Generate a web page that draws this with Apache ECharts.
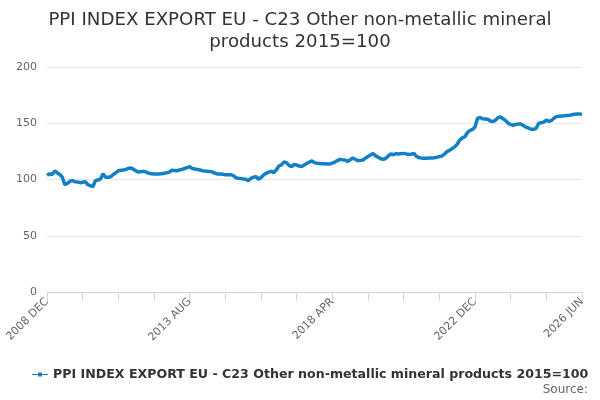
<!DOCTYPE html>
<html>
<head>
<meta charset="utf-8">
<script src="https://cdn.jsdelivr.net/npm/echarts@6/dist/echarts.min.js"></script>
<style>
  html, body { margin: 0; padding: 0; background: #fff; }
  #chart { width: 600px; height: 400px; }
</style>
</head>
<body>
<div id="chart"></div>
<script>
// monthly index, 2008 DEC .. 2026 JUN
var seriesName = 'PPI INDEX EXPORT EU - C23 Other non-metallic mineral products 2015=100';
var monthNames = ['JAN','FEB','MAR','APR','MAY','JUN','JUL','AUG','SEP','OCT','NOV','DEC'];
var tickLabels = ['2008 DEC', '2013 AUG', '2018 APR', '2022 DEC', '2026 JUN'];
var values = [
  103.7, 105, 104.5, 107.5, 106, 104.5, 102, 95.5, 96.5, 98.5,
  99, 98, 97.8, 97.2, 97.5, 98, 95.5, 94.5, 93.6, 99,
  99.5, 100.5, 105, 102, 102, 102.5, 104.5, 106, 107.8, 108.2,
  108.4, 109, 110, 110.2, 109, 107.5, 106.6, 107, 107.3, 106.5,
  105.5, 105.2, 104.9, 105, 104.9, 105.2, 105.5, 106, 106.6, 108.2,
  108, 107.8, 108.5, 109, 109.8, 110.5, 111.4, 109.8, 109.4, 109,
  108.4, 107.8, 107.5, 107.3, 107, 106.6, 105.5, 104.9, 104.9, 104.6,
  104.3, 104.3, 104.3, 103.7, 101.8, 101, 100.8, 100.5, 100.2, 99,
  101, 102, 102.6, 100.2, 101.8, 104, 105.5, 106.5, 107.3, 106,
  108.5, 112, 113, 115.5, 115, 112.5, 111.4, 113.5, 112.8, 112,
  111.4, 113, 114.3, 115.5, 116.5, 115, 114.5, 114.3, 114, 114,
  113.8, 113.8, 114.5, 115.5, 116.8, 117.9, 117.5, 117.3, 116.1, 117.5,
  119.1, 118, 116.7, 117, 117.3, 119, 120.5, 121.8, 123.2, 121,
  119.8, 118.5, 117.9, 118.8, 121, 122.7, 122, 123, 122.7, 123,
  123.2, 122.8, 122.2, 122.5, 123.2, 120.5, 119.5, 119, 118.8, 118.8,
  119.1, 119.2, 119.4, 119.8, 120.3, 120.8, 122.5, 124.8, 125.9, 127.5,
  129, 131.3, 135, 137, 138, 141.5, 143.5, 144.5, 146.7, 154.5,
  155, 154, 153.8, 153.5, 152, 151.5, 152.5, 155, 155.6, 154,
  152.5, 150, 148.8, 148.2, 149, 149.3, 149.3, 148, 146.5, 145.8,
  144.6, 144.6, 145.5, 150, 150.5, 151, 152.9, 151.7, 152.5, 154.5,
  155.9, 156.2, 156.4, 156.6, 157, 157, 157.5, 158, 158.2, 158.2,
  157.9
];

var categories = [];
var y = 2008, m = 11;
for (var i = 0; i < values.length; i++) {
  categories.push(y + ' ' + monthNames[m]);
  m++;
  if (m > 11) { m = 0; y++; }
}

var chart = echarts.init(document.getElementById('chart'));
chart.setOption({
  animation: false,
  textStyle: { fontFamily: 'DejaVu Sans' },
  title: {
    text: 'PPI INDEX EXPORT EU - C23 Other non-metallic mineral\nproducts 2015=100',
    left: 'center',
    top: 4,
    textStyle: { fontSize: 18.2, fontWeight: 'normal', color: '#333', lineHeight: 22 }
  },
  grid: { left: 47, right: 18, top: 67, bottom: 108 },
  xAxis: {
    type: 'category',
    data: categories,
    boundaryGap: false,
    axisLine: { lineStyle: { color: '#ccd6eb' } },
    axisTick: {
      length: 9,
      lineStyle: { color: '#ccd6eb' },
      interval: function (idx) { return idx % 14 === 0; }
    },
    axisLabel: {
      rotate: 45,
      color: '#666',
      fontSize: 11,
      margin: 8,
      interval: function (idx, val) { return tickLabels.indexOf(val) >= 0; }
    },
    splitLine: { show: false }
  },
  yAxis: {
    type: 'value',
    min: 0,
    max: 200,
    interval: 50,
    axisLine: { show: false },
    axisTick: { show: false },
    axisLabel: { color: '#666', fontSize: 11, margin: 10 },
    splitLine: { lineStyle: { color: '#e6e6e6' } }
  },
  legend: {
    top: 363,
    left: 27,
    itemWidth: 16,
    itemHeight: 6,
    itemGap: 5,
    icon: 'path://M0,2.5 L16,2.5 L16,3.5 L0,3.5 Z M6,1 L10,1 L10,5 L6,5 Z',
    textStyle: { fontSize: 12.6, fontWeight: 'bold', color: '#333' },
    data: [seriesName]
  },
  graphic: [{
    type: 'text',
    right: 12,
    bottom: 4,
    style: { text: 'Source:', fontSize: 12, fill: '#666', fontFamily: 'DejaVu Sans' }
  }],
  series: [{
    name: seriesName,
    type: 'line',
    data: values,
    showSymbol: false,
    symbol: 'circle',
    symbolSize: 4,
    lineStyle: { width: 3.5, color: '#1180c4' },
    itemStyle: { color: '#1180c4' }
  }]
});
</script>
</body>
</html>
